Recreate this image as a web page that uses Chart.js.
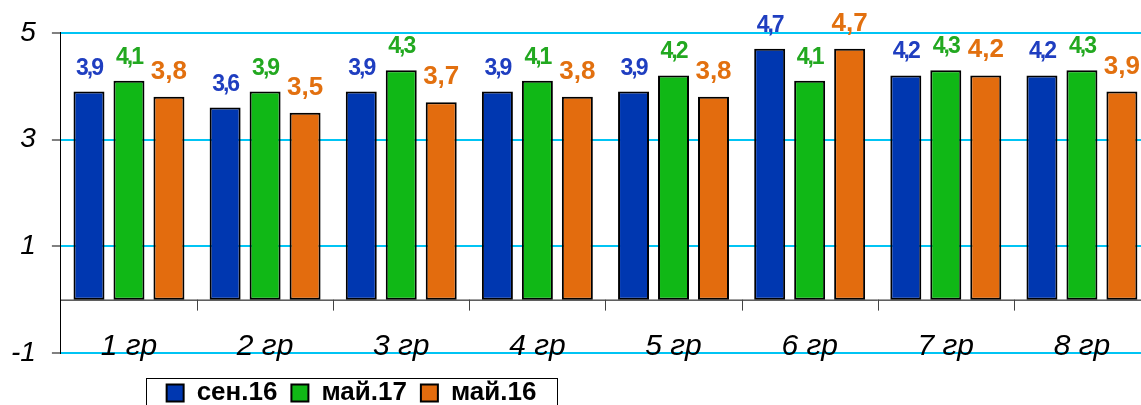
<!DOCTYPE html>
<html>
<head>
<meta charset="utf-8">
<script src="https://cdn.jsdelivr.net/npm/chart.js@4/dist/chart.umd.min.js"></script>
<style>
html, body { margin: 0; padding: 0; overflow: hidden; background: #fff; }
#wrap { width: 1157px; height: 412px; position: relative; margin-left: -5px; }
</style>
</head>
<body>
<div id="wrap"><canvas id="grChart"></canvas></div>
<script>
// categories and series
var groups = ["1 гр", "2 гр", "3 гр", "4 гр", "5 гр", "6 гр", "7 гр", "8 гр"];
var sep16 = [3.9, 3.6, 3.9, 3.9, 3.9, 4.7, 4.2, 4.2];
var may17 = [4.1, 3.9, 4.3, 4.1, 4.2, 4.1, 4.3, 4.3];
var may16 = [3.8, 3.5, 3.7, 3.8, 3.8, 4.7, 4.2, 3.9];
var yTicks = [-1, 1, 3, 5];

var FONT = "'Liberation Sans', Arial, sans-serif";

// bar value labels, comma decimals
var valueLabels = {
	id: "valueLabels",
	afterDatasetsDraw: function(chart)
	{
		var ctx = chart.ctx;
		var styles = [
			{ color: "#1f3ec0", font: "bold 23px " + FONT, spacing: "-2px", lift: 17 },
			{ color: "#22a820", font: "bold 23px " + FONT, spacing: "-2px", lift: 17 },
			{ color: "#e2700f", font: "bold 26px " + FONT, spacing: "0px", lift: 18 }
		];
		chart.data.datasets.forEach(function(ds, i)
		{
			var meta = chart.getDatasetMeta(i);
			var st = styles[i];
			ctx.save();
			ctx.fillStyle = st.color;
			ctx.font = st.font;
			ctx.letterSpacing = st.spacing;
			ctx.textAlign = "center";
			ctx.textBaseline = "alphabetic";
			meta.data.forEach(function(bar, j)
			{
				var txt = ds.data[j].toFixed(1).replace(".", ",");
				ctx.fillText(txt, bar.x, bar.y - st.lift);
			});
			ctx.restore();
		});
	}
};

// black zero line with small ticks between groups
var zeroLine = {
	id: "zeroLine",
	beforeDatasetsDraw: function(chart)
	{
		var ctx = chart.ctx;
		var xs = chart.scales.x, ys = chart.scales.y;
		var y0 = ys.getPixelForValue(0);
		ctx.save();
		ctx.strokeStyle = "#000";
		ctx.lineWidth = 1;
		ctx.beginPath();
		ctx.moveTo(chart.chartArea.left, y0 + 0.5);
		ctx.lineTo(chart.chartArea.right, y0 + 0.5);
		ctx.stroke();
		ctx.strokeStyle = "#444";
		ctx.beginPath();
		for (var i = 1; i < groups.length; i++)
		{
			var bx = Math.round((xs.getPixelForValue(i - 1) + xs.getPixelForValue(i)) / 2) + 0.5;
			ctx.moveTo(bx, y0);
			ctx.lineTo(bx, y0 + 11);
		}
		ctx.stroke();
		ctx.restore();
	}
};

// legend placed under the left part of the plot, with a frame
var legendFrame = {
	id: "legendFrame",
	afterLayout: function(chart)
	{
		var lg = chart.legend;
		var h = lg.bottom - lg.top;
		lg.left = 151;
		lg.right = 562;
		lg.top = chart.chartArea.bottom + 13;
		lg.bottom = lg.top + h;
	},
	afterDraw: function(chart)
	{
		var lg = chart.legend;
		var ctx = chart.ctx;
		ctx.save();
		ctx.strokeStyle = "#000";
		ctx.lineWidth = 1;
		ctx.strokeRect(lg.left + 0.5, lg.top + 12.5, lg.right - lg.left, 40);
		ctx.restore();
	}
};

new Chart("grChart",
{
	type: "bar",
	data:
	{
		labels: groups,
		datasets:
		[
			{ label: "сен.16", data: sep16, backgroundColor: "#0037b0" },
			{ label: "май.17", data: may17, backgroundColor: "#10b816" },
			{ label: "май.16", data: may16, backgroundColor: "#e36c0e" }
		]
	},
	options:
	{
		responsive: true,
		maintainAspectRatio: false,
		animation: false,
		datasets:
		{
			bar:
			{
				borderColor: "#000",
				borderWidth: 2,
				borderSkipped: false,
				categoryPercentage: 0.881,
				barPercentage: 0.775
			}
		},
		layout: { padding: { left: 0, right: 2, top: 16, bottom: 9 } },
		scales:
		{
			x:
			{
				position: { y: -1 },
				grid: { display: false, drawTicks: false },
				border: { display: false },
				ticks:
				{
					padding: -24,
					color: "#000",
					font: { family: FONT, size: 30, style: "italic" }
				}
			},
			y:
			{
				min: -1,
				max: 5,
				afterBuildTicks: function(axis)
				{
					axis.ticks = yTicks.map(function(v) { return { value: v }; });
				},
				grid: { color: "#00c4f4", lineWidth: 2, tickColor: "#808080", tickLength: 9 },
				border: { display: true, color: "#000", width: 1 },
				ticks:
				{
					padding: 16,
					color: "#000",
					font: { family: FONT, size: 28, style: "italic" },
					callback: function(v) { return String(v); }
				}
			}
		},
		plugins:
		{
			legend:
			{
				position: "bottom",
				labels:
				{
					boxWidth: 17,
					boxHeight: 17,
					padding: 14,
					color: "#000",
					font: { family: FONT, size: 26, weight: "bold" }
				}
			},
			tooltip: { enabled: false }
		}
	},
	plugins: [valueLabels, zeroLine, legendFrame]
});
</script>
</body>
</html>
